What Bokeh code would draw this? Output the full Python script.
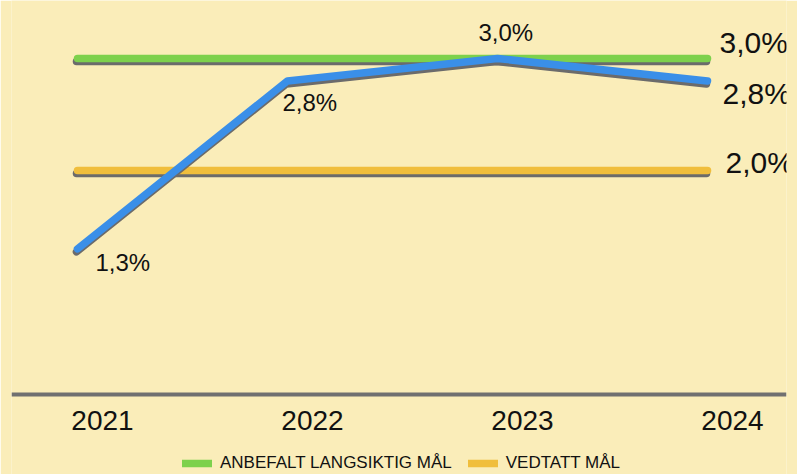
import re
from bokeh.plotting import figure
from bokeh.models import ColumnDataSource, Span, Legend, LegendItem
from bokeh.core.properties import value
from bokeh.embed import file_html
from bokeh.resources import INLINE

# ---- data ----
years = [2021, 2022, 2023, 2024]
year_labels = ["2021", "2022", "2023", "2024"]
actual = [1.3, 2.8, 3.0, 2.8]            # blue series
recommended = [3.0, 3.0, 3.0, 3.0]       # green: anbefalt langsiktig mål
adopted = [2.0, 2.0, 2.0, 2.0]           # yellow: vedtatt mål
series_names = ["ANBEFALT LANGSIKTIG MÅL", "VEDTATT MÅL"]


def pct(v):
    return f"{v:.1f}%".replace(".", ",")


# ---- style ----
BG = "#FAEDB9"
GREEN = "#7DD14C"
BLUE = "#3A8FE8"
YELLOW = "#F0BE3C"
SHADOW = "#6B6B6B"
FONT = "Liberation Sans"
PX_X = 210.0   # pixels per year
PX_Y = 112.0   # pixels per percentage point
W, H = 797, 474
BL, BR = 11, 11
x0 = 2021 - (77 - BL) / PX_X
x1 = x0 + (W - BL - BR) / PX_X
y1 = 394 / PX_Y
y0 = y1 - H / PX_Y

p = figure(width=W, height=H, x_range=(x0, x1), y_range=(y0, y1),
           output_backend="svg", toolbar_location=None,
           x_axis_location=None, y_axis_location=None,
           min_border_left=BL, min_border_right=BR, min_border_top=0, min_border_bottom=0)
p.grid.visible = False
p.outline_line_color = None
p.background_fill_color = BG
p.border_fill_color = BG

# baseline
p.add_layout(Span(location=0, dimension="width", line_color="#707070", line_width=4))

dx = -1.0 / PX_X
dy = -3.0 / PX_Y


def shadowed(ys, color, width=7.5):
    p.line([x + dx for x in years], [y + dy for y in ys], line_color=SHADOW,
           line_width=width, line_cap="round", line_join="round")
    return p.line(years, ys, line_color=color, line_width=width,
                  line_cap="round", line_join="round")


g = shadowed(recommended, GREEN)
yl = shadowed(adopted, YELLOW)
b = shadowed(actual, BLUE)

# point labels for the blue series (first three)
pt_src = ColumnDataSource(dict(
    x=years[:3], y=actual[:3], t=[pct(v) for v in actual[:3]],
    xo=[18, -5, -19], yo=[14, 22, -26]))
p.text("x", "y", text="t", source=pt_src, x_offset="xo", y_offset="yo",
       text_font=value(FONT), text_font_size="24px", text_color="#111111",
       text_align="left", text_baseline="middle")

# end labels
end_src = ColumnDataSource(dict(
    x=[years[-1]] * 3, y=[recommended[-1], actual[-1], adopted[-1]],
    t=[pct(recommended[-1]), pct(actual[-1]), pct(adopted[-1])],
    xo=[12, 15, 18], yo=[-16, 13, -8]))
p.text("x", "y", text="t", source=end_src, x_offset="xo", y_offset="yo",
       text_font=value(FONT), text_font_size="30px", text_color="#111111",
       text_align="left", text_baseline="middle")

# year labels
yr_src = ColumnDataSource(dict(x=years, y=[0] * len(years), t=year_labels))
p.text("x", "y", text="t", source=yr_src, x_offset=25, y_offset=26,
       text_font=value(FONT), text_font_size="28px", text_color="#111111",
       text_align="center", text_baseline="middle")

legend = Legend(items=[LegendItem(label=series_names[0], renderers=[g]),
                       LegendItem(label=series_names[1], renderers=[yl])],
                orientation="horizontal", location=(171, 1),
                background_fill_alpha=0, border_line_color=None,
                padding=0, margin=0, spacing=16, label_standoff=8,
                glyph_width=30, glyph_height=18,
                label_text_font=FONT, label_text_font_size="17px",
                label_text_color="#111111")
p.add_layout(legend, "center")

html = file_html(p, INLINE)
html = re.sub(r"<body[^>]*>", f'<body style="background-color:{BG};">', html, count=1)
open("out.html", "w").write(html)
